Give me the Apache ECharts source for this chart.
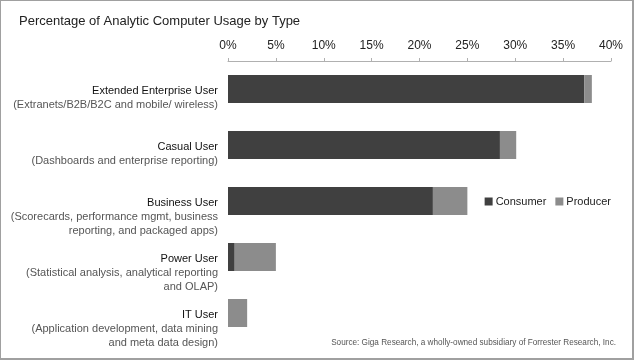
<!DOCTYPE html>
<html><head><meta charset="utf-8">
<script src="https://cdn.jsdelivr.net/npm/echarts@6/dist/echarts.min.js"></script>
<style>
html,body{margin:0;padding:0;background:#fff;}
#wrap{position:relative;width:634px;height:360px;}
#c{position:absolute;left:0;top:0;width:634px;height:360px;}
#frame{position:absolute;left:0;top:0;width:634px;height:360px;box-sizing:border-box;border-left:1px solid #a0a0a0;border-top:1px solid #a0a0a0;border-right:2px solid #a0a0a0;border-bottom:2px solid #a0a0a0;pointer-events:none;}
</style></head>
<body><div id="wrap"><div id="c"></div><div id="frame"></div></div>
<script>
var categoryNames = ['Extended Enterprise User','Casual User','Business User','Power User','IT User'];
var categoryDescriptions = [
  ['(Extranets/B2B/B2C and mobile/ wireless)'],
  ['(Dashboards and enterprise reporting)'],
  ['(Scorecards, performance mgmt, business','reporting, and packaged apps)'],
  ['(Statistical analysis, analytical reporting','and OLAP)'],
  ['(Application development, data mining','and meta data design)']
];
var consumer = [37.2, 28.4, 21.4, 0.7, 0];
var producer = [0.8, 1.7, 3.6, 4.3, 2.0];
var xTicks = [0, 5, 10, 15, 20, 25, 30, 35, 40];

var font = '"Liberation Sans", Arial, sans-serif';
var chart = echarts.init(document.getElementById('c'), null, {renderer:'canvas'});

function labelFor(i){
  var d = categoryDescriptions[i];
  var lines = [];
  for (var k=0;k<d.length;k++) lines.push('{e| }');
  lines.push('{a|' + categoryNames[i] + '}');
  for (var k=0;k<d.length;k++) lines.push('{b|' + d[k] + '}');
  return lines.join('\n');
}

chart.setOption({
  animation:false,
  backgroundColor:'#fff',
  title:{text:'Percentage of Analytic Computer Usage by Type', left:14, top:10,
    textStyle:{fontFamily:font, fontSize:13, fontWeight:'normal', color:'#222'}},
  legend:{right:18, top:191, itemWidth:8, itemHeight:8, itemGap:9,
    textStyle:{fontFamily:font, fontSize:11, color:'#222', padding:[0,0,0,-2]},
    data:[{name:'Consumer', icon:'rect'},{name:'Producer', icon:'rect'}]},
  grid:{left:228, right:23, top:61, bottom:19, containLabel:false},
  xAxis:{type:'value', position:'top', min:0, max:40, interval:5,
    axisLine:{show:true, lineStyle:{color:'#b0b0b0'}},
    axisTick:{show:true, length:3, lineStyle:{color:'#b0b0b0'}},
    splitLine:{show:false},
    axisLabel:{margin:9, fontFamily:font, fontSize:12, color:'#222',
      formatter:function(v){ return v + '%'; }}},
  yAxis:{type:'category', inverse:true, data:categoryNames.map(function(n,i){return i;}),
    axisLine:{show:false}, axisTick:{show:false},
    axisLabel:{interval:0, margin:10, align:'right', lineHeight:14, padding:[4,0,0,0],
      formatter:function(v, i){ return labelFor(i); },
      rich:{
        e:{fontSize:11, lineHeight:14, fontFamily:font},
        a:{fontSize:11, lineHeight:14, fontFamily:font, color:'#111', align:'right'},
        b:{fontSize:11, lineHeight:14, fontFamily:font, color:'#555', align:'right'}
      }}},
  series:[
    {name:'Consumer', type:'bar', stack:'s', data:consumer, barWidth:28,
      itemStyle:{color:'#404040'}},
    {name:'Producer', type:'bar', stack:'s', data:producer, barWidth:28,
      itemStyle:{color:'#8c8c8c'}}
  ],
  graphic:[{type:'text', right:18, top:339,
    style:{text:'Source: Giga Research, a wholly-owned subsidiary of Forrester Research, Inc.',
      font:'8.2px ' + font, fill:'#555'}}]
});
</script></body></html>
